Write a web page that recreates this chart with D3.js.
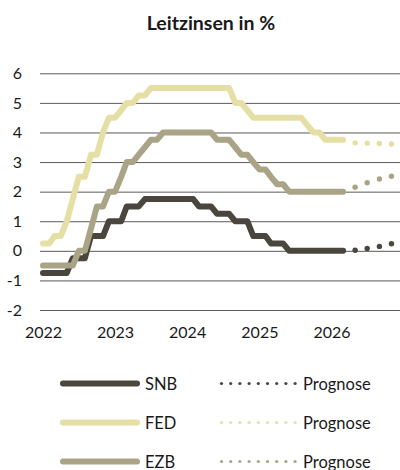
<!DOCTYPE html>
<html>
<head>
<meta charset="utf-8">
<script src="https://cdn.jsdelivr.net/npm/d3@7"></script>
<style>
  body { margin: 0; background: #fff; }
  text { font-family: Lato, "Noto Sans", sans-serif; fill: #1a1a1a; }
</style>
</head>
<body>
<div id="chart"></div>
<script>
// Monthly policy rates (month-end), Jan 2022 – Mar 2026
const snb = [
  -0.75, -0.75, -0.75, -0.75, -0.75, -0.25, -0.25, -0.25, 0.5, 0.5, 0.5, 1.0,
  1.0, 1.0, 1.5, 1.5, 1.5, 1.75, 1.75, 1.75, 1.75, 1.75, 1.75, 1.75,
  1.75, 1.75, 1.5, 1.5, 1.5, 1.25, 1.25, 1.25, 1.0, 1.0, 1.0, 0.5,
  0.5, 0.5, 0.25, 0.25, 0.25, 0, 0, 0, 0, 0, 0, 0,
  0, 0, 0
];
const fed = [
  0.25, 0.25, 0.5, 0.5, 1.0, 1.75, 2.5, 2.5, 3.25, 3.25, 4.0, 4.5,
  4.5, 4.75, 5.0, 5.0, 5.25, 5.25, 5.5, 5.5, 5.5, 5.5, 5.5, 5.5,
  5.5, 5.5, 5.5, 5.5, 5.5, 5.5, 5.5, 5.5, 5.0, 5.0, 4.75, 4.5,
  4.5, 4.5, 4.5, 4.5, 4.5, 4.5, 4.5, 4.5, 4.25, 4.0, 4.0, 3.75,
  3.75, 3.75, 3.75
];
const ezb = [
  -0.5, -0.5, -0.5, -0.5, -0.5, -0.5, 0, 0, 0.75, 1.5, 1.5, 2.0,
  2.0, 2.5, 3.0, 3.0, 3.25, 3.5, 3.75, 3.75, 4.0, 4.0, 4.0, 4.0,
  4.0, 4.0, 4.0, 4.0, 4.0, 3.75, 3.75, 3.75, 3.5, 3.25, 3.25, 3.0,
  2.75, 2.75, 2.5, 2.25, 2.25, 2.0, 2.0, 2.0, 2.0, 2.0, 2.0, 2.0,
  2.0, 2.0, 2.0
];

// Forecast (Prognose) points
const forecastDates = ["2026-05-01", "2026-07-01", "2026-09-01", "2026-11-01"];
const snbForecast = [0.02, 0.08, 0.15, 0.24];
const fedForecast = [3.65, 3.64, 3.63, 3.61];
const ezbForecast = [2.15, 2.3, 2.43, 2.52];

const yTicks = [-2, -1, 0, 1, 2, 3, 4, 5, 6];
const xTicks = [2022, 2023, 2024, 2025, 2026];

const series = [
  { name: "SNB", color: "#4a463d", values: snb, forecast: snbForecast },
  { name: "FED", color: "#e6dfa5", values: fed, forecast: fedForecast },
  { name: "EZB", color: "#aaa487", values: ezb, forecast: ezbForecast }
];

const width = 400, height = 470;
const months = d3.timeMonth.range(new Date(2022, 0, 1), new Date(2026, 3, 1));
const parse = d3.timeParse("%Y-%m-%d");

const svg = d3.select("#chart").append("svg")
  .attr("width", width)
  .attr("height", height);

const x = d3.scaleTime()
  .domain([new Date(2022, 0, 1), new Date(2027, 0, 1)])
  .range([43, 403.5]);

const y = d3.scaleLinear()
  .domain([-2, 6])
  .range([310, 73.3]);

// Title
svg.append("text")
  .attr("x", 211)
  .attr("y", 30)
  .attr("text-anchor", "middle")
  .style("font-size", "19.5px")
  .style("font-weight", "bold")
  .text("Leitzinsen in %");

// Y grid + labels
const yAxis = svg.append("g")
  .attr("transform", "translate(40,0)")
  .call(d3.axisLeft(y).tickValues(yTicks).tickSize(-360).tickPadding(18).tickFormat(d => String(d)));
yAxis.select(".domain").remove();
yAxis.selectAll("line").attr("stroke", "#5a5a5a").attr("stroke-width", 1);
yAxis.selectAll("text").style("font-size", "16px").attr("fill", "#1a1a1a");

// X labels
const xAxis = svg.append("g")
  .attr("transform", "translate(0,310)")
  .call(d3.axisBottom(x)
    .tickValues(xTicks.map(yr => new Date(yr, 0, 1)))
    .tickSize(0).tickPadding(17)
    .tickFormat(d3.timeFormat("%Y")));
xAxis.select(".domain").remove();
xAxis.selectAll("text").style("font-size", "16px").attr("fill", "#1a1a1a");

const line = d3.line()
  .x((d, i) => x(months[i]))
  .y(d => y(d));

series.forEach(s => {
  svg.append("path")
    .datum(s.values)
    .attr("d", line)
    .attr("fill", "none")
    .attr("stroke", s.color)
    .attr("stroke-width", 6)
    .attr("stroke-linejoin", "round")
    .attr("stroke-linecap", "round");

  svg.selectAll(null)
    .data(s.forecast)
    .enter()
    .append("circle")
    .attr("cx", (d, i) => x(parse(forecastDates[i])))
    .attr("cy", d => y(d))
    .attr("r", 2.7)
    .attr("fill", s.color);
});

// Legend
const legend = svg.append("g");
series.forEach((s, i) => {
  const row = legend.append("g")
    .attr("transform", `translate(0, ${383.5 + i * 39})`);

  row.append("line")
    .attr("x1", 63).attr("x2", 137)
    .attr("y1", 0).attr("y2", 0)
    .attr("stroke", s.color)
    .attr("stroke-width", 6)
    .attr("stroke-linecap", "round");

  row.append("text")
    .attr("x", 145)
    .attr("y", 6)
    .style("font-size", "16.5px")
    .text(s.name);

  row.selectAll("circle")
    .data(d3.range(9))
    .enter()
    .append("circle")
    .attr("cx", d => 221.5 + d * 9.2)
    .attr("cy", 0)
    .attr("r", 1.6)
    .attr("fill", s.color);

  row.append("text")
    .attr("x", 303)
    .attr("y", 6)
    .style("font-size", "16.5px")
    .text("Prognose");
});
</script>
</body>
</html>
